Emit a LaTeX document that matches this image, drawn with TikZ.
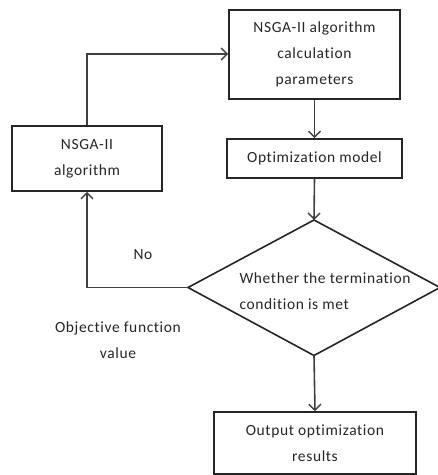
\documentclass[tikz,border=0pt]{standalone}
\usepackage{fontspec}
\setmainfont{Carlito}[Ligatures={NoCommon},LetterSpace=4]
\usetikzlibrary{arrows.meta}
\begin{document}
\begin{tikzpicture}[x=1pt,y=-1pt,
  every node/.style={font=\fontsize{15.5}{26}\selectfont, text=black!85},
  box/.style={draw=black!85, line width=1.6pt, align=center, inner sep=0pt},
  conn/.style={draw=black!75, line width=1.6pt, -{Straight Barb[length=6pt,width=12pt,line width=1.4pt]}},
]
\useasboundingbox (0,0) rectangle (438,475);
\node[box, minimum width=171pt, minimum height=89pt] (par) at (314.5,54.5) {NSGA-II algorithm\\calculation\\parameters};
\node[box, minimum width=175pt, minimum height=39pt] (opt) at (314.5,158.5) {Optimization model};
\coordinate (dc) at (314,287.5);
\coordinate (dt) at (314,220);
\coordinate (db) at (314,355.5);
\coordinate (dl) at (188,287.5);
\coordinate (dr) at (440,287.5);
\draw[draw=black!85, line width=1.6pt] (dt) -- (dr) -- (db) -- (dl) -- cycle;
\node[anchor=west, align=left] (dtext) at (236,291) {Whether the termination\\condition is met};
\node[box, minimum width=202pt, minimum height=62pt] (out) at (315,443) {Output optimization\\results};
\node[box, minimum width=150pt, minimum height=65pt] (alg) at (87,158.5) {NSGA-II\\algorithm};
\node (no) at (143,255) {No};
\node[align=center] (obj) at (118,340) {Objective function\\value};
\draw[conn] (par.south) -- (opt.north);
\draw[conn] (opt.south) -- (dt);
\draw[conn] (db) -- (out.north);
\draw[conn] (dl) -| (alg.south);
\draw[conn] (alg.north) |- (par.west |- 0,54);
\end{tikzpicture}
\end{document}
